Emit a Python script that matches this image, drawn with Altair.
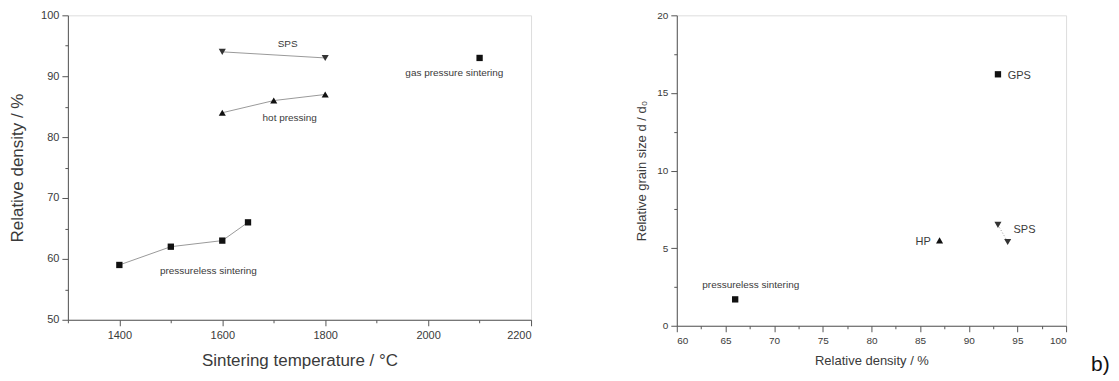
import altair as alt
import pandas as pd

# ---- Panel a: relative density vs sintering temperature ----
ps_temp = [1400, 1500, 1600, 1650]
ps_dens = [59, 62, 63, 66]
hp_temp = [1600, 1700, 1800]
hp_dens = [84, 86, 87]
sps_temp = [1600, 1800]
sps_dens = [94, 93]
gps_temp = [2100]
gps_dens = [93]

a_labels = ["SPS", "hot pressing", "gas pressure sintering", "pressureless sintering"]
a_label_x = [1727, 1731, 2051, 1573]
a_label_y = [95.3, 83.1, 90.6, 58.0]

# ---- Panel b: relative grain size vs relative density ----
b_ps_dens = [66]
b_ps_grain = [1.7]
b_hp_dens = [87]
b_hp_grain = [5.5]
b_sps_dens = [93, 94]
b_sps_grain = [6.5, 5.4]
b_gps_dens = [93]
b_gps_grain = [16.2]

b_labels = ["GPS", "SPS", "HP", "pressureless sintering"]
b_label_x = [94.0, 94.6, 86.1, 67.6]
b_label_y = [16.1, 6.2, 5.4, 2.6]
b_label_align = ["left", "left", "right", "center"]

FONT = "Liberation Sans"
TXT = "#3a3a3a"
AX = "#555555"

def pts(xs, ys, sname):
    return pd.DataFrame({"x": xs, "y": ys, "s": sname})

def axis(values, major_test, title, tfs, lfs, tpad, lpad, fmt):
    return alt.Axis(
        values=values, format=fmt,
        labelExpr=f"({major_test}) ? datum.label : ''",
        tickSize={"condition": {"test": major_test, "value": 6}, "value": 3},
        title=title, titleFontSize=tfs, labelFontSize=lfs, titleFont=FONT, labelFont=FONT,
        titleFontWeight="normal", titleColor=TXT, labelColor=TXT,
        domainColor=AX, tickColor=AX, grid=False, titlePadding=tpad, labelPadding=lpad,
    )

# Panel a
xa = alt.X("x:Q", scale=alt.Scale(domain=[1300, 2200], nice=False),
           axis=axis(list(range(1300, 2201, 100)), "datum.value % 200 === 0",
                     "Sintering temperature / °C", 17, 11, 12, 4, "d"))
ya = alt.Y("y:Q", scale=alt.Scale(domain=[50, 100], nice=False, zero=False),
           axis=axis(list(range(50, 101, 5)), "datum.value % 10 === 0",
                     "Relative density / %", 17, 11, 14, 3, "d"))

ps_df = pts(ps_temp, ps_dens, "ps")
hp_df = pts(hp_temp, hp_dens, "hp")
sps_df = pts(sps_temp, sps_dens, "sps")
gps_df = pts(gps_temp, gps_dens, "gps")

def line(df, x, y):
    return alt.Chart(df).mark_line(color="#9a9a9a", strokeWidth=1).encode(x=x, y=y)

a_layers = [
    line(ps_df, xa, ya), line(hp_df, xa, ya), line(sps_df, xa, ya),
    alt.Chart(ps_df).mark_point(shape="square", filled=True, size=40, color="#111", opacity=1).encode(x=xa, y=ya),
    alt.Chart(gps_df).mark_point(shape="square", filled=True, size=40, color="#111", opacity=1).encode(x=xa, y=ya),
    alt.Chart(hp_df).mark_point(shape="triangle-up", filled=True, size=50, color="#111", opacity=1).encode(x=xa, y=ya),
    alt.Chart(sps_df).mark_point(shape="triangle-down", filled=True, size=50, color="#333", opacity=1).encode(x=xa, y=ya),
    alt.Chart(pd.DataFrame({"x": a_label_x, "y": a_label_y, "t": a_labels})).mark_text(
        font=FONT, fontSize=10, color=TXT).encode(x=xa, y=ya, text="t:N"),
]
panel_a = alt.layer(*a_layers).properties(width=464, height=305)

# Panel b
xb = alt.X("x:Q", scale=alt.Scale(domain=[60, 100], nice=False, zero=False),
           axis=axis([60 + 2.5 * i for i in range(17)], "datum.value % 5 === 0",
                     "Relative density / %", 13, 10, 9, 4, "d"))
yb = alt.Y("y:Q", scale=alt.Scale(domain=[0, 20], nice=False),
           axis=axis([2.5 * i for i in range(9)], "datum.value % 5 === 0",
                     "Relative grain size d / d\u2080", 13, 10, 8, 3, "d"))

bps_df = pts(b_ps_dens, b_ps_grain, "ps")
bhp_df = pts(b_hp_dens, b_hp_grain, "hp")
bsps_df = pts(b_sps_dens, b_sps_grain, "sps")
bgps_df = pts(b_gps_dens, b_gps_grain, "gps")
blab_df = pd.DataFrame({"x": b_label_x, "y": b_label_y, "t": b_labels, "al": b_label_align})

b_layers = [
    alt.Chart(bsps_df).mark_line(color="#9a9a9a", strokeWidth=1, strokeDash=[1, 2]).encode(x=xb, y=yb),
    alt.Chart(pd.concat([bps_df, bgps_df])).mark_point(shape="square", filled=True, size=40, color="#111", opacity=1).encode(x=xb, y=yb),
    alt.Chart(bhp_df).mark_point(shape="triangle-up", filled=True, size=50, color="#111", opacity=1).encode(x=xb, y=yb),
    alt.Chart(bsps_df).mark_point(shape="triangle-down", filled=True, size=50, color="#333", opacity=1).encode(x=xb, y=yb),
]
for al in ["left", "right", "center"]:
    b_layers.append(
        alt.Chart(blab_df[blab_df["al"] == al]).mark_text(
            font=FONT, fontSize=11 if al != "center" else 10, color=TXT, align=al).encode(x=xb, y=yb, text="t:N"))
b_layers.append(
    alt.Chart(pd.DataFrame({"t": ["b)"]})).mark_text(
        font=FONT, fontSize=21, color="#111", align="left", baseline="middle").encode(
        x=alt.value(415), y=alt.value(350), text="t:N"))
panel_b = alt.layer(*b_layers).properties(width=390, height=311)

chart = alt.hconcat(panel_a, panel_b, spacing=103).configure_view(
    stroke=AX, strokeWidth=1
).configure(background="white", padding={"left": 0, "top": 0, "right": 0, "bottom": 0})

chart.save("out.html", embed_options={"renderer": "svg", "actions": False})
